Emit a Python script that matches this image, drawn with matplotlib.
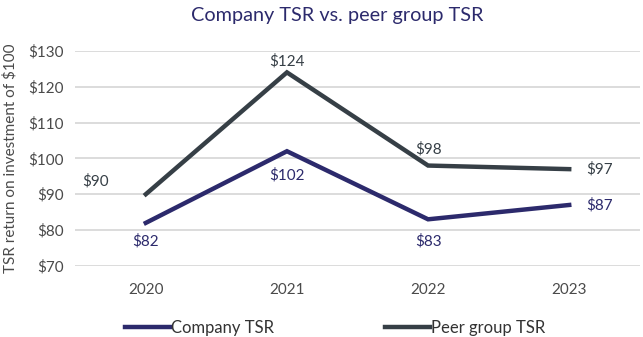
import matplotlib
matplotlib.use("Agg")
import matplotlib.pyplot as plt
from matplotlib.lines import Line2D

plt.rcParams['font.family'] = ['Lato', 'DejaVu Sans']

years = ["2020", "2021", "2022", "2023"]
company = [82, 102, 83, 87]
peer = [90, 124, 98, 97]
yticks = [70, 80, 90, 100, 110, 120, 130]

navy = "#2c2a6c"
slate = "#363f46"
grid = "#d6d6d6"
tick_col = "#4a4a4a"

fig = plt.figure(figsize=(6.43, 3.37), dpi=100)
ax = fig.add_axes([0.117, 0.211, 0.878, 0.638])

x = list(range(len(years)))
ax.plot(x, company, color=navy, lw=3.2, solid_joinstyle='miter', zorder=3)
ax.plot(x, peer, color=slate, lw=3.2, solid_joinstyle='miter', zorder=3)

ax.set_xlim(-0.5, 3.5)
ax.set_ylim(70, 130)
ax.set_yticks(yticks)
ax.set_yticklabels([f"${v}" for v in yticks])
ax.set_xticks(x)
ax.set_xticklabels(years)
ax.grid(axis='y', color=grid, lw=1.2)
ax.set_axisbelow(True)
for s in ax.spines.values():
    s.set_visible(False)
ax.tick_params(length=0, labelsize=11, colors=tick_col, pad=8)
ax.tick_params(axis='x', pad=12)
ax.set_ylabel("TSR return on investment of $100", fontsize=11, color=tick_col, labelpad=8)

fs = 11
# company labels (offsets in points)
offs_c = [(0, -13, 'center'), (0, -17, 'center'), (0, -16, 'center'), (12, 0, 'left')]
for i, (dx, dy, ha) in enumerate(offs_c):
    ax.annotate(f"${company[i]}", (x[i], company[i]), xytext=(dx, dy),
                textcoords='offset points', ha=ha, va='center', fontsize=fs, color=navy)
# peer labels
offs_p = [(-36, 9, 'center'), (0, 8, 'center'), (0, 12, 'center'), (12, 0, 'left')]
for i, (dx, dy, ha) in enumerate(offs_p):
    ax.annotate(f"${peer[i]}", (x[i], peer[i]), xytext=(dx, dy),
                textcoords='offset points', ha=ha, va='center', fontsize=fs, color=slate)

fig.text(0.525, 0.955, "Company TSR vs. peer group TSR", ha='center', va='center',
         fontsize=14.3, color=navy)

handles = [Line2D([], [], color=navy, lw=3.2), Line2D([], [], color=slate, lw=3.2)]
fig.legend(handles, ["Company TSR", "Peer group TSR"], loc='center', ncol=2,
           bbox_to_anchor=(0.521, 0.027), frameon=False, fontsize=12,
           handlelength=2.7, handletextpad=0.05, columnspacing=6.7, labelcolor='#333333')

fig.savefig("out.png", dpi=100)
